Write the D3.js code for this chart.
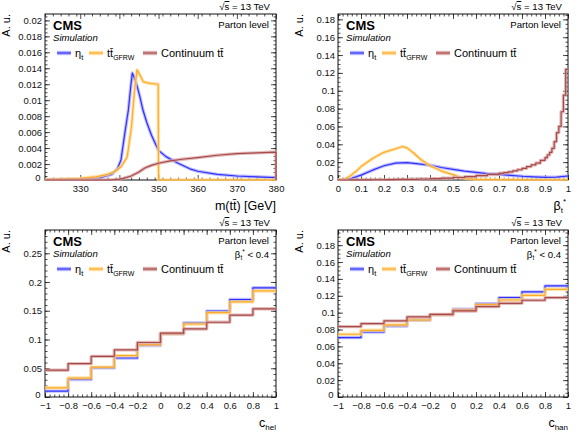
<!DOCTYPE html>
<html>
  <head>
    <meta charset="utf-8">
    <title>eta_t distributions</title>
    <script src="https://d3js.org/d3.v7.min.js"></script>
    <style>
      body { margin: 0; background: #fff; }
      text { font-family: "Liberation Sans", Arial, Helvetica, sans-serif; }
    </style>
  </head>
  <body>
  <script type="text/javascript">
  // m(ttbar) panel
  var mttEtaX  = [321, 330, 335, 338, 339.5, 340.4, 341.4, 342.3, 342.9, 343.3, 343.8, 344.5, 345.2, 346, 347, 348.2, 350, 352, 355, 358, 360, 365, 370, 375, 380];
  var mttEtaY  = [0, 0.0001, 0.0003, 0.0007, 0.0014, 0.0025, 0.0059, 0.0088, 0.0117, 0.0134, 0.0128, 0.0118, 0.0105, 0.0088, 0.0072, 0.0056, 0.0037, 0.0029, 0.0021, 0.0014, 0.0011, 0.0007, 0.0005, 0.0004, 0.0003];
  var mttGfX   = [321, 330, 334, 337, 339, 340.5, 342, 343.1, 343.8, 344.5, 345.2, 346.1, 347.8, 349.9, 350, 380];
  var mttGfY   = [0.00005, 0.0002, 0.0004, 0.0007, 0.0011, 0.0017, 0.0029, 0.0067, 0.0109, 0.0138, 0.0132, 0.0123, 0.0121, 0.012, 0, 0];
  var mttContX = [321, 338, 340, 341, 343, 345, 346.5, 348, 350, 353, 356, 360, 365, 370, 375, 380, 380.01];
  var mttContY = [0, 0, 0.0001, 0.0002, 0.0005, 0.0010, 0.0015, 0.0018, 0.0021, 0.0024, 0.0026, 0.0028, 0.0031, 0.0033, 0.0034, 0.0035, 0];

  // beta_t* panel
  var betaEtaX = [0, 0.03, 0.06, 0.10, 0.15, 0.20, 0.25, 0.30, 0.35, 0.40, 0.45, 0.50, 0.55, 0.60, 0.65, 0.70, 0.75, 0.80, 0.85, 0.90, 0.95, 1.0];
  var betaEtaY = [0, 0.0003, 0.002, 0.0055, 0.011, 0.016, 0.019, 0.0195, 0.018, 0.0165, 0.014, 0.012, 0.010, 0.0085, 0.0072, 0.0064, 0.0052, 0.0042, 0.0035, 0.003, 0.0032, 0.0045];
  var betaGfX  = [0, 0.03, 0.05, 0.08, 0.10, 0.15, 0.20, 0.25, 0.28, 0.30, 0.33, 0.36, 0.40, 0.45, 0.50, 0.53, 0.56, 0.60, 0.70, 0.80, 1.0];
  var betaGfY  = [0, 0.001, 0.004, 0.010, 0.015, 0.024, 0.031, 0.035, 0.0375, 0.036, 0.030, 0.023, 0.016, 0.010, 0.006, 0.003, 0.0015, 0.0008, 0.0003, 0.0001, 0];
  var betaContEdges = [0, 0.05, 0.1, 0.15, 0.2, 0.25, 0.3, 0.35, 0.4, 0.45, 0.5, 0.55, 0.6, 0.65, 0.7,
                       0.72, 0.74, 0.76, 0.78, 0.8, 0.82, 0.84, 0.86, 0.88, 0.9,
                       0.91, 0.92, 0.93, 0.94, 0.95, 0.96, 0.97, 0.98, 0.99, 1.0];
  var betaContY = [0, 0.0001, 0.0002, 0.0003, 0.0004, 0.0006, 0.0008, 0.0011, 0.0015, 0.002, 0.0028, 0.0038, 0.005, 0.0062,
                   0.0075, 0.0082, 0.009, 0.0102, 0.0115, 0.013, 0.015, 0.017, 0.019, 0.022,
                   0.025, 0.028, 0.031, 0.0355, 0.043, 0.053, 0.06, 0.0765, 0.095, 0.124];

  // c_hel and c_han panels (10 bins from -1 to 1)
  var cEdges  = [-1, -0.8, -0.6, -0.4, -0.2, 0, 0.2, 0.4, 0.6, 0.8, 1];
  var helEta  = [0.0103, 0.0305, 0.0506, 0.0678, 0.0897, 0.110, 0.129, 0.1494, 0.1695, 0.190];
  var helGf   = [0.016, 0.033, 0.052, 0.072, 0.091, 0.110, 0.127, 0.1466, 0.1655, 0.1845];
  var helCont = [0.0466, 0.058, 0.0707, 0.082, 0.0948, 0.111, 0.1184, 0.130, 0.1425, 0.1534];
  var hanEta  = [0.0704, 0.0771, 0.0842, 0.091, 0.0976, 0.104, 0.1107, 0.1178, 0.1246, 0.1317];
  var hanGf   = [0.0744, 0.0791, 0.0854, 0.0913, 0.0976, 0.1032, 0.1095, 0.115, 0.1206, 0.1277];
  var hanCont = [0.0834, 0.087, 0.0902, 0.0949, 0.098, 0.102, 0.1071, 0.1111, 0.1147, 0.1178];

  var colEta  = {line: '#3030ff', band: '#a8a8ff'};
  var colGf   = {line: '#ffaa2a', band: '#ffd98c'};
  var colCont = {line: '#a84a4a', band: '#d8a4a4'};

  var svg = d3.select('body').append('svg')
              .attr('width', 580)
              .attr('height', 432);

  function fmtNum(d) {
    var s = String(+d.toFixed(6));
    return s.replace('-', '\u2212');
  }

  function histPoints(edges, vals) {
    var pts = vals.map(function(v, i) { return [edges[i], v]; });
    pts.push([edges[edges.length - 1], vals[vals.length - 1]]);
    return pts;
  }

  function drawPanel(p) {
    var g = svg.append('g');
    var x = d3.scaleLinear().domain(p.xdom).range([p.x0, p.x1]);
    var y = d3.scaleLinear().domain([0, p.ymax]).range([p.y1, p.y0]);

    // minor ticks on all four sides
    var xm = d3.range(p.xdom[0], p.xdom[1] + 1e-9, p.xminor);
    var ym = d3.range(0, p.ymax, p.yminor);
    [[d3.axisBottom(x), p.y1], [d3.axisTop(x), p.y0]].forEach(function(a) {
      g.append('g').attr('transform', 'translate(0,' + a[1] + ')')
       .call(a[0].tickValues(xm).tickSize(-2.5).tickSizeOuter(0).tickFormat(''));
    });
    [[d3.axisLeft(y), p.x0], [d3.axisRight(y), p.x1]].forEach(function(a) {
      g.append('g').attr('transform', 'translate(' + a[1] + ',0)')
       .call(a[0].tickValues(ym).tickSize(-2.5).tickSizeOuter(0).tickFormat(''));
    });
    // major ticks
    var xt = d3.range(p.xmaj[0], p.xmaj[1] + 1e-9, p.xmaj[2]);
    var yt = d3.range(0, p.ymax + 1e-9, p.ystep);
    g.append('g').attr('class', 'xaxis').attr('transform', 'translate(0,' + p.y1 + ')')
     .call(d3.axisBottom(x).tickValues(xt).tickSize(-5).tickSizeOuter(0).tickPadding(5).tickFormat(fmtNum));
    g.append('g').attr('transform', 'translate(0,' + p.y0 + ')')
     .call(d3.axisTop(x).tickValues(xt).tickSize(-5).tickSizeOuter(0).tickFormat(''));
    var ya = g.append('g').attr('class', 'yaxis').attr('transform', 'translate(' + p.x0 + ',0)')
     .call(d3.axisLeft(y).tickValues(yt).tickSize(-5).tickSizeOuter(0).tickPadding(3).tickFormat(fmtNum));
    // keep the y "0" clear of the first x label
    ya.selectAll('.tick text').filter(function(d) { return d === 0; }).attr('dy', '0.1em').attr('dx', '-0.15em');
    g.append('g').attr('transform', 'translate(' + p.x1 + ',0)')
     .call(d3.axisRight(y).tickValues(yt).tickSize(-5).tickSizeOuter(0).tickFormat(''));
    g.selectAll('.domain').remove();
    g.selectAll('.tick line').attr('stroke', '#222').attr('stroke-width', 0.8);
    g.selectAll('.tick text').attr('font-size', 9.5).attr('fill', '#111')
     .attr('font-family', '"Liberation Sans", Arial, sans-serif');

    g.append('rect').attr('x', p.x0).attr('y', p.y0)
     .attr('width', p.x1 - p.x0).attr('height', p.y1 - p.y0)
     .attr('fill', 'none').attr('stroke', '#111').attr('stroke-width', 1);

    // curves
    var clip = 'clip' + p.id;
    g.append('clipPath').attr('id', clip).append('rect')
     .attr('x', p.x0 - 1).attr('y', p.y0).attr('width', p.x1 - p.x0 + 2).attr('height', p.y1 - p.y0 + 1);
    var plot = g.append('g').attr('clip-path', 'url(#' + clip + ')');
    p.series.forEach(function(s) {
      var line = d3.line()
        .x(function(d) { return x(d[0]); })
        .y(function(d) { return y(d[1]); })
        .curve(s.step ? d3.curveStepAfter : d3.curveLinear);
      plot.append('path').datum(s.pts).attr('d', line)
        .attr('fill', 'none').attr('stroke', s.col.band).attr('stroke-width', 3.4)
        .attr('stroke-opacity', 0.75).attr('stroke-linejoin', 'round');
      plot.append('path').datum(s.pts).attr('d', line)
        .attr('fill', 'none').attr('stroke', s.col.line).attr('stroke-width', 1.2)
        .attr('stroke-linejoin', 'round');
    });

    // labels
    g.append('text').attr('x', p.x0 + 8).attr('y', p.y0 + 16)
     .attr('font-size', 13).attr('font-weight', 'bold').text('CMS');
    g.append('text').attr('x', p.x0 + 8).attr('y', p.y0 + 26.5)
     .attr('font-size', 9.6).attr('font-style', 'italic').text('Simulation');
    g.append('text').attr('x', p.x1 - 7).attr('y', p.y0 + 14)
     .attr('font-size', 9.6).attr('text-anchor', 'end').text('Parton level');
    if (p.cut) {
      var c = g.append('text').attr('x', p.x1 - 7).attr('y', p.y0 + 28)
       .attr('font-size', 9.6).attr('text-anchor', 'end');
      c.append('tspan').text('\u03b2');
      c.append('tspan').attr('font-size', 6.5).attr('dy', 2).text('t');
      c.append('tspan').attr('font-size', 6.5).attr('dy', -6).text('*');
      c.append('tspan').attr('dy', 4).text(' < 0.4');
    }
    var rs = g.append('text').attr('x', p.x1 - 6).attr('y', p.y0 - 4)
     .attr('font-size', 9.6).attr('text-anchor', 'end');
    rs.append('tspan').text('\u221a');
    rs.append('tspan').attr('text-decoration', 'overline').text('s');
    rs.append('tspan').text(' = 13 TeV');
    g.append('text').attr('transform', 'translate(' + (p.x0 - 35) + ',' + p.y0 + ') rotate(-90)')
     .attr('font-size', 11).attr('text-anchor', 'end').text('A. u.');

    // legend
    var ly = p.y0 + 39;
    var items = [
      {col: colEta, x: 12, lab: 'eta'},
      {col: colGf, x: 44, lab: 'gf'},
      {col: colCont, x: 98, lab: 'cont'}
    ];
    items.forEach(function(it) {
      g.append('rect').attr('x', p.x0 + it.x).attr('y', ly - 2.2).attr('width', 14).attr('height', 4.4)
       .attr('fill', it.col.band).attr('opacity', 0.85);
      g.append('line').attr('x1', p.x0 + it.x).attr('x2', p.x0 + it.x + 14).attr('y1', ly).attr('y2', ly)
       .attr('stroke', it.col.line).attr('stroke-width', 1.2);
      var t = g.append('text').attr('x', p.x0 + it.x + 18).attr('y', ly + 4).attr('font-size', 11);
      if (it.lab === 'eta') {
        t.append('tspan').text('\u03b7');
        t.append('tspan').attr('font-size', 7.5).attr('dy', 3).text('t');
      } else if (it.lab === 'gf') {
        t.append('tspan').text('tt\u0304');
        t.append('tspan').attr('font-size', 7).attr('dy', 3).text('GFRW');
      } else {
        t.text('Continuum tt\u0304');
      }
    });

    // x title
    var xt2 = g.append('text').attr('x', p.x1).attr('y', p.y1 + 30)
      .attr('font-size', 12.5).attr('text-anchor', 'end');
    p.xtitle(xt2);
  }

  drawPanel({
    id: 'a', x0: 45, x1: 276, y0: 14, y1: 180,
    xdom: [321, 380], xmaj: [330, 380, 10], xminor: 2,
    ymax: 0.0208, ystep: 0.002, yminor: 0.0005,
    series: [
      {col: colEta, pts: d3.zip(mttEtaX, mttEtaY)},
      {col: colGf, pts: d3.zip(mttGfX, mttGfY)},
      {col: colCont, pts: d3.zip(mttContX, mttContY)}
    ],
    xtitle: function(t) { t.text('m(tt\u0304) [GeV]'); }
  });

  drawPanel({
    id: 'b', x0: 338, x1: 568, y0: 14, y1: 180,
    xdom: [0, 1], xmaj: [0, 1, 0.1], xminor: 0.02,
    ymax: 0.186, ystep: 0.02, yminor: 0.005,
    series: [
      {col: colEta, pts: d3.zip(betaEtaX, betaEtaY)},
      {col: colGf, pts: d3.zip(betaGfX, betaGfY)},
      {col: colCont, pts: histPoints(betaContEdges, betaContY), step: true}
    ],
    xtitle: function(t) {
      t.attr('x', 566);
      t.append('tspan').text('\u03b2');
      t.append('tspan').attr('font-size', 8).attr('dy', 3).text('t');
      t.append('tspan').attr('font-size', 8).attr('dy', -9).text('*');
    }
  });

  drawPanel({
    id: 'c', x0: 45, x1: 276, y0: 230, y1: 397,
    xdom: [-1, 1], xmaj: [-1, 1, 0.2], xminor: 0.04,
    ymax: 0.2905, ystep: 0.05, yminor: 0.01, cut: true,
    series: [
      {col: colEta, pts: histPoints(cEdges, helEta), step: true},
      {col: colGf, pts: histPoints(cEdges, helGf), step: true},
      {col: colCont, pts: histPoints(cEdges, helCont), step: true}
    ],
    xtitle: function(t) {
      t.append('tspan').text('c');
      t.append('tspan').attr('font-size', 8).attr('dy', 3).text('hel');
    }
  });

  drawPanel({
    id: 'd', x0: 338, x1: 568, y0: 230, y1: 397,
    xdom: [-1, 1], xmaj: [-1, 1, 0.2], xminor: 0.04,
    ymax: 0.198, ystep: 0.02, yminor: 0.005, cut: true,
    series: [
      {col: colEta, pts: histPoints(cEdges, hanEta), step: true},
      {col: colGf, pts: histPoints(cEdges, hanGf), step: true},
      {col: colCont, pts: histPoints(cEdges, hanCont), step: true}
    ],
    xtitle: function(t) {
      t.append('tspan').text('c');
      t.append('tspan').attr('font-size', 8).attr('dy', 3).text('han');
    }
  });
  </script>
  </body>
</html>
